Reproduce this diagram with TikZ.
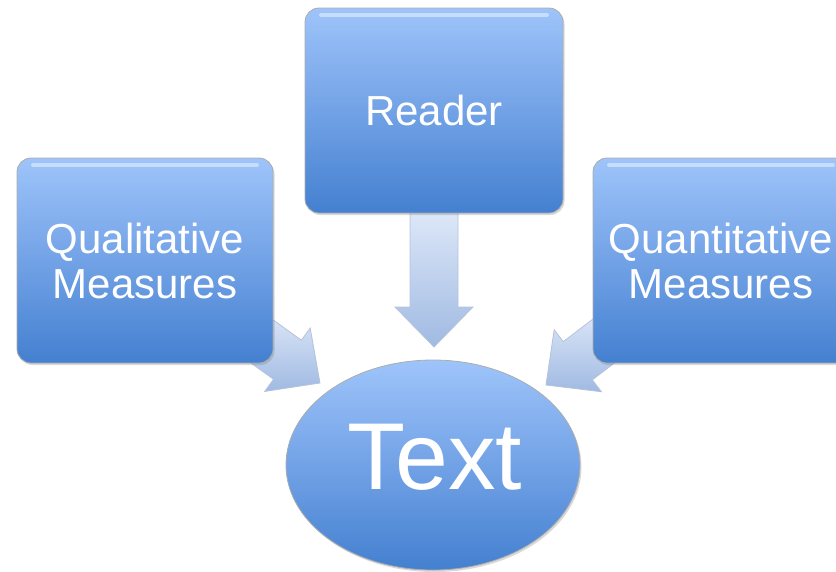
\documentclass[tikz,border=0pt]{standalone}
\usepackage{fontspec}
\setmainfont{Liberation Sans}
\usetikzlibrary{calc,shapes.geometric,shadows}

\definecolor{boxtop}{RGB}{158,196,250}
\definecolor{boxmid}{RGB}{114,162,230}
\definecolor{boxbot}{RGB}{68,128,208}
\definecolor{arrtop}{RGB}{226,235,250}
\definecolor{arrbot}{RGB}{160,186,226}
\definecolor{arredge}{RGB}{180,195,220}

\newcommand\blockarr[2]{%
  \coordinate (hb) at ($(#2)!40pt!(#1)$);
  \draw[fatarrow] ($(#1)!24pt!90:(#2)$) -- ($(hb)!24pt!90:(#2)$) -- ($(hb)!39pt!90:(#2)$) -- (#2)
    -- ($(hb)!39pt!-90:(#2)$) -- ($(hb)!24pt!-90:(#2)$) -- ($(#1)!24pt!-90:(#2)$) -- cycle;
}

\begin{document}
\begin{tikzpicture}[x=1pt,y=-1pt,
  gloss/.style={path picture={
      \draw[white,opacity=0.45,line width=4pt,line cap=round]
        ([shift={(16,7)}]path picture bounding box.north west) -- ([shift={(-16,7)}]path picture bounding box.north east);}},
  box/.style={rectangle, rounded corners=14pt, draw=gray!65, line width=0.8pt,
    top color=boxtop, bottom color=boxbot, middle color=boxmid, text=white, align=center,
    font=\fontsize{42}{45}\selectfont, minimum width=256pt, minimum height=205pt, inner sep=0pt,
    drop shadow={opacity=0.3, shadow xshift=1.5pt, shadow yshift=-2pt}, gloss},
  oval/.style={ellipse, draw=gray!65, line width=0.8pt,
    top color=boxtop, bottom color=boxbot, middle color=boxmid, text=white,
    minimum width=294pt, minimum height=210pt, inner sep=0pt,
    drop shadow={opacity=0.3, shadow xshift=1.5pt, shadow yshift=-2pt}},
  fatarrow/.style={draw=arredge, line width=0.8pt, top color=arrtop, bottom color=arrbot, line join=miter}
]
\useasboundingbox (0,0) rectangle (836,571);

% arrow coordinates
\coordinate (ls) at (239,325);
\coordinate (le) at (320,383);
\coordinate (rs) at (434,200);
\coordinate (re) at (434,347);
\coordinate (qs) at (626,324);
\coordinate (qe) at (546,385);

\blockarr{ls}{le}
\blockarr{rs}{re}
\blockarr{qs}{qe}

\node[box] (qual) at (145,260.5) {Qualitative\\Measures};
\node[box, minimum width=258pt] (reader) at (434,110.5) {Reader};
\node[box] (quant) at (721,260.5) {Quantitative\\Measures};
\node[oval] (text) at (433,465) {};
\node[text=white, font=\fontsize{95}{95}\selectfont, inner sep=0pt] (textlabel) at (435,457) {Text};
\end{tikzpicture}
\end{document}
